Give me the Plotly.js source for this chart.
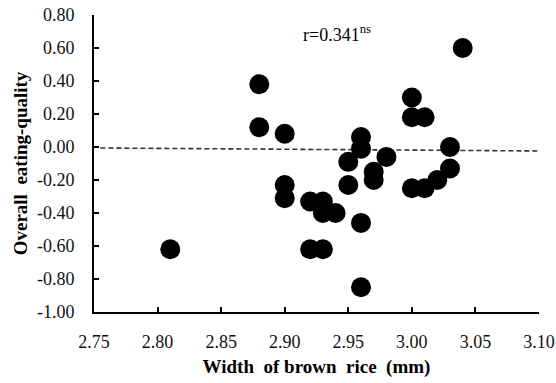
<!DOCTYPE html>
<html>
<head>
<meta charset="utf-8">
<script src="https://cdn.plot.ly/plotly-3.0.1.min.js"></script>
<style>html,body{margin:0;padding:0;background:#fff;}#chart{width:556px;height:383px;}</style>
</head>
<body>
<div id="chart"></div>
<script>
const widthMm = [2.81, 2.88, 2.88, 2.90, 2.90, 2.90, 2.92, 2.92, 2.93, 2.93, 2.93, 2.94, 2.95, 2.95, 2.96, 2.96, 2.96, 2.96, 2.97, 2.97, 2.98, 3.00, 3.00, 3.00, 3.01, 3.01, 3.02, 3.03, 3.03, 3.04];
const eatingQuality = [-0.62, 0.38, 0.12, 0.08, -0.23, -0.31, -0.33, -0.62, -0.33, -0.40, -0.62, -0.40, -0.09, -0.23, 0.06, -0.01, -0.46, -0.85, -0.15, -0.20, -0.06, 0.30, 0.18, -0.25, 0.18, -0.25, -0.20, 0.00, -0.13, 0.60];
const refLineX = [2.755, 3.10];
const refLineY = [-0.006, -0.024];
const xTickVals = [2.75, 2.80, 2.85, 2.90, 2.95, 3.00, 3.05, 3.10];
const yTickVals = [0.80, 0.60, 0.40, 0.20, 0.00, -0.20, -0.40, -0.60, -0.80, -1.00];
const rLabel = 'r=0.341<sup>ns</sup>';

const serif = 'Liberation Serif';

const traces = [
  {
    x: refLineX, y: refLineY, mode: 'lines', type: 'scatter',
    line: {color: '#333', width: 1.6, dash: '5px,3px'}, hoverinfo: 'skip', showlegend: false
  },
  {
    x: widthMm, y: eatingQuality, mode: 'markers', type: 'scatter',
    marker: {color: '#000', size: 20, line: {width: 0}}, showlegend: false
  }
];

const layout = {
  width: 556, height: 383,
  margin: {l: 94, r: 17, t: 15, b: 71, pad: 0},
  paper_bgcolor: '#fff', plot_bgcolor: '#fff',
  showlegend: false,
  font: {family: serif, color: '#000', size: 17},
  xaxis: {
    range: [2.75, 3.10], tickvals: xTickVals, ticktext: xTickVals.map(v => v.toFixed(2)),
    showgrid: false, zeroline: false, showline: true, linecolor: '#000', linewidth: 2,
    ticks: 'inside', ticklen: 5, tickwidth: 2, tickcolor: '#000',
    ticklabelstandoff: 12,
    tickfont: {family: serif, size: 18, color: '#111'},
    title: {text: '<b>Width&nbsp; of brown&nbsp; rice&nbsp; (mm)</b>', font: {family: serif, size: 19, color: '#000'}, standoff: 9}
  },
  yaxis: {
    range: [-1.00, 0.80], tickvals: yTickVals, ticktext: yTickVals.map(v => v.toFixed(2)),
    showgrid: false, zeroline: false, showline: true, linecolor: '#000', linewidth: 2,
    ticks: 'inside', ticklen: 5, tickwidth: 2, tickcolor: '#000',
    ticklabelstandoff: 14,
    tickfont: {family: serif, size: 18, color: '#111'},
    title: {text: '<b>Overall&nbsp; eating-quality</b>', font: {family: serif, size: 19, color: '#000'}, standoff: 4}
  },
  annotations: [{
    x: 2.913, y: 0.69, xref: 'x', yref: 'y', xanchor: 'left', yanchor: 'middle',
    text: rLabel, showarrow: false, font: {family: serif, size: 18, color: '#000'}
  }]
};

Plotly.newPlot('chart', traces, layout, {displayModeBar: false, staticPlot: true});
</script>
</body>
</html>
